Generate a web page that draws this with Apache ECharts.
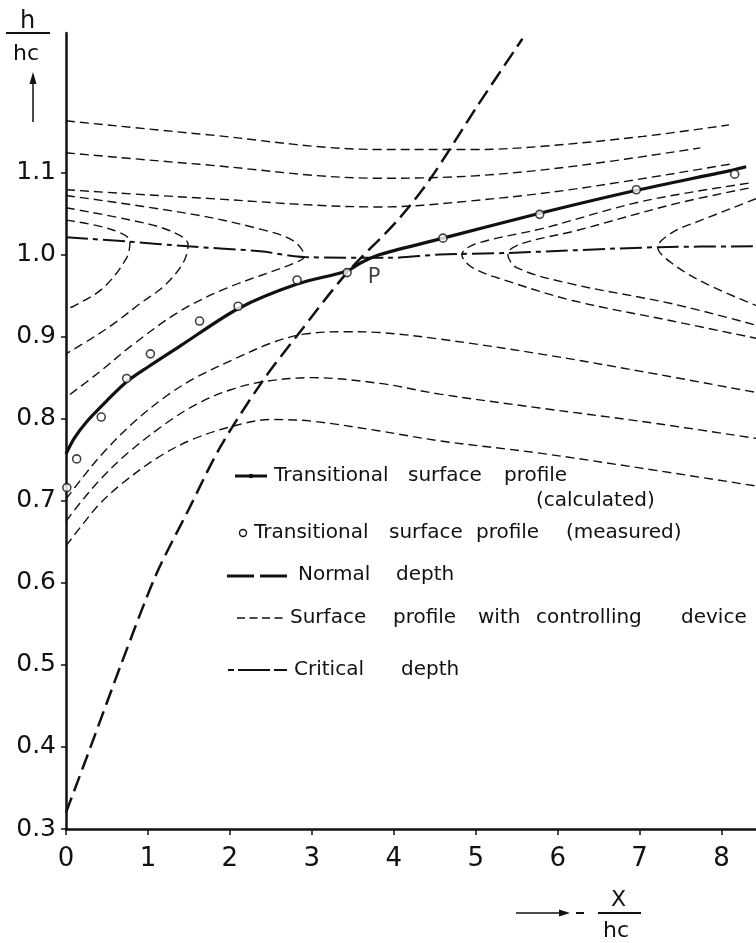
<!DOCTYPE html>
<html>
<head>
<meta charset="utf-8">
<title>Transitional surface profile</title>
<script src="https://cdn.jsdelivr.net/npm/echarts@6/dist/echarts.min.js"></script>
<style>
  html, body { margin: 0; padding: 0; background: #fff; }
  #chart { width: 756px; height: 943px; }
</style>
</head>
<body>
<div id="chart"></div>
<script>
// axis ticks
const xTicks = [0, 1, 2, 3, 4, 5, 6, 7, 8]
const yTicks = [0.3, 0.4, 0.5, 0.6, 0.7, 0.8, 0.9, 1.0, 1.1]

// transitional surface profile (calculated) and (measured)
const transCalc = [[0, 0.757], [0.1, 0.776], [0.25, 0.796], [0.5, 0.822], [0.74, 0.845], [1.0, 0.863], [1.4, 0.889], [2.1, 0.934], [2.82, 0.964], [3.43, 0.98], [3.6, 0.99], [3.83, 1.0], [4.6, 1.02], [5.77, 1.05], [6.95, 1.078], [8.09, 1.102], [8.3, 1.107]]
const transMeas = [[0.01, 0.716], [0.13, 0.751], [0.43, 0.802], [0.74, 0.849], [1.03, 0.879], [1.63, 0.919], [2.1, 0.937], [2.82, 0.969], [3.43, 0.978], [4.6, 1.02], [5.78, 1.049], [6.96, 1.079], [8.16, 1.098]]

// normal depth and critical depth
const normalDepth = [[0, 0.32], [0.3, 0.4], [0.67, 0.5], [1.1, 0.61], [1.5, 0.69], [1.88, 0.765], [2.4, 0.846], [2.85, 0.905], [3.43, 0.978], [4.04, 1.041], [4.45, 1.093], [5.0, 1.178], [5.57, 1.263]]
const criticalDepth = [[0, 1.021], [0.74, 1.016], [1.49, 1.01], [2.37, 1.004], [2.91, 0.997], [3.95, 0.996], [4.56, 1.0], [5.39, 1.002], [7.22, 1.009], [8.42, 1.01]]

// surface profiles with controlling device
const sp1 = [[0, 1.163], [1.63, 1.147], [3.83, 1.128], [5.0, 1.128], [5.82, 1.132], [7.04, 1.144], [8.09, 1.158]]
const sp2 = [[0, 1.124], [1.63, 1.11], [3.83, 1.093], [5.0, 1.096], [6.22, 1.108], [7.74, 1.13]]
const sp3 = [[0, 1.079], [1.63, 1.069], [3.83, 1.058], [4.9, 1.065], [6.22, 1.08], [8.15, 1.111]]
const sp4 = [[0, 1.072], [1.55, 1.049], [2.37, 1.031], [2.77, 1.017], [2.91, 0.998], [2.77, 0.989], [1.96, 0.959], [1.39, 0.931], [0.8, 0.889], [0.41, 0.857], [0, 0.826]]
const sp5 = [[0, 1.057], [0.74, 1.043], [1.27, 1.029], [1.49, 1.012], [1.43, 0.99], [1.2, 0.962], [0.9, 0.94], [0.6, 0.917], [0.3, 0.897], [0, 0.879]]
const sp6 = [[0, 1.042], [0.54, 1.031], [0.78, 1.016], [0.74, 0.996], [0.45, 0.959], [0.09, 0.937], [0, 0.934]]
const sp7 = [[8.33, 1.087], [7.04, 1.065], [5.82, 1.032], [5.0, 1.013], [4.83, 1.0], [4.96, 0.984], [5.38, 0.968], [6.18, 0.944], [7.4, 0.919], [8.42, 0.898]]
const sp8 = [[8.33, 1.081], [7.44, 1.062], [6.22, 1.029], [5.55, 1.013], [5.39, 1.001], [5.5, 0.984], [6.18, 0.964], [7.4, 0.94], [8.42, 0.914]]
const sp9 = [[8.42, 1.068], [7.73, 1.041], [7.4, 1.027], [7.22, 1.009], [7.4, 0.989], [7.82, 0.964], [8.42, 0.938]]
const sp10 = [[0, 0.702], [0.2, 0.728], [0.45, 0.758], [0.82, 0.795], [1.23, 0.828], [1.6, 0.851], [2.04, 0.872], [2.5, 0.892], [2.9, 0.903], [3.4, 0.906], [3.83, 0.905], [4.56, 0.897], [5.78, 0.879], [7.0, 0.858], [8.42, 0.832]]
const sp11 = [[0, 0.675], [0.17, 0.697], [0.41, 0.725], [0.74, 0.757], [1.23, 0.795], [1.6, 0.818], [2.0, 0.835], [2.4, 0.845], [3.0, 0.85], [3.83, 0.843], [4.56, 0.83], [5.78, 0.813], [7.0, 0.797], [8.42, 0.776]]
const sp12 = [[0, 0.645], [0.17, 0.667], [0.4, 0.695], [0.66, 0.719], [1.11, 0.752], [1.55, 0.775], [2.08, 0.792], [2.5, 0.799], [3.0, 0.797], [3.83, 0.785], [4.56, 0.773], [5.78, 0.758], [7.0, 0.74], [8.42, 0.718]]
const surfaceProfiles = [sp1, sp2, sp3, sp4, sp5, sp6, sp7, sp8, sp9, sp10, sp11, sp12]

// point P
const pointP = [[3.76, 0.972]]

const FONT = 'DejaVu Sans'
const INK = '#111'

const chartInstance = echarts.init(document.getElementById('chart'))

function word(text, x, y, size) {
    return {
        type: 'text',
        x: x,
        y: y,
        style: {
            text: text,
            font: (size || 20) + 'px "' + FONT + '"',
            fill: INK,
            verticalAlign: 'middle'
        }
    }
}

function seg(x1, y1, x2, y2, w, dash) {
    return {
        type: 'line',
        shape: { x1: x1, y1: y1, x2: x2, y2: y2 },
        style: { stroke: INK, lineWidth: w, lineDash: dash || null }
    }
}

const series = []

surfaceProfiles.forEach(function (d) {
    series.push({
        type: 'line',
        data: d,
        smooth: 0.35,
        symbol: 'none',
        lineStyle: { color: INK, width: 1.4, type: [9, 5] },
        silent: true
    })
})

series.push({
    type: 'line',
    name: 'Critical depth',
    data: criticalDepth,
    smooth: 0.3,
    symbol: 'none',
    lineStyle: { color: INK, width: 2, type: [22, 5, 5, 5] }
})

series.push({
    type: 'line',
    name: 'Normal depth',
    data: normalDepth,
    smooth: 0.3,
    symbol: 'none',
    lineStyle: { color: INK, width: 2.5, type: [16, 7] }
})

series.push({
    type: 'line',
    name: 'Transitional surface profile (calculated)',
    data: transCalc,
    smooth: 0.3,
    symbol: 'none',
    lineStyle: { color: INK, width: 3.2 }
})

series.push({
    type: 'scatter',
    name: 'Transitional surface profile (measured)',
    data: transMeas,
    symbol: 'circle',
    symbolSize: 8,
    itemStyle: { color: '#fff', borderColor: INK, borderWidth: 1.6 },
    z: 5
})

series.push({
    type: 'scatter',
    data: pointP,
    symbolSize: 0,
    label: {
        show: true,
        position: 'inside',
        formatter: 'P',
        color: INK,
        fontFamily: FONT,
        fontSize: 21
    }
})

const option = {
    animation: false,
    backgroundColor: '#fff',
    grid: { left: 66, right: 0, top: 33, bottom: 114 },
    xAxis: {
        type: 'value',
        min: 0,
        max: 8.42,
        interval: 1,
        axisLine: { lineStyle: { color: INK, width: 2.5 } },
        axisTick: {
            show: true,
            customValues: xTicks,
            length: 6,
            lineStyle: { color: INK, width: 1.5 }
        },
        axisLabel: {
            customValues: xTicks,
            margin: 17,
            color: INK,
            fontFamily: FONT,
            fontSize: 26
        },
        splitLine: { show: false }
    },
    yAxis: {
        type: 'value',
        min: 0.3,
        max: 1.27,
        interval: 0.1,
        axisLine: { show: true, lineStyle: { color: INK, width: 2.5 } },
        axisTick: {
            show: true,
            customValues: yTicks,
            length: 5,
            lineStyle: { color: INK, width: 1.5 }
        },
        axisLabel: {
            customValues: yTicks,
            margin: 10,
            color: INK,
            fontFamily: FONT,
            fontSize: 25,
            formatter: function (v) { return v.toFixed(1) }
        },
        splitLine: { show: false }
    },
    graphic: [
        // y axis title
        word('h', 20, 22, 24),
        seg(6, 33, 50, 33, 2),
        word('hc', 13, 54, 22),
        seg(33, 122, 33, 82, 1.5),
        { type: 'polygon', shape: { points: [[33, 72], [29.5, 84], [36.5, 84]] }, style: { fill: INK } },
        // x axis title
        seg(516, 913, 562, 913, 1.5),
        { type: 'polygon', shape: { points: [[570, 913], [559, 909.5], [559, 916.5]] }, style: { fill: INK } },
        seg(576, 913, 584, 913, 2),
        word('X', 611, 900, 22),
        seg(598, 913, 641, 913, 2),
        word('hc', 603, 931, 22),
        // legend row 1
        seg(235, 476, 267, 476, 3),
        { type: 'circle', shape: { cx: 251, cy: 476, r: 2.2 }, style: { fill: INK } },
        word('Transitional', 274, 476),
        word('surface', 408, 476),
        word('profile', 504, 476),
        word('(calculated)', 536, 501),
        // legend row 2
        { type: 'circle', shape: { cx: 243, cy: 533, r: 3.5 }, style: { fill: '#fff', stroke: INK, lineWidth: 1.4 } },
        word('Transitional', 254, 533),
        word('surface', 389, 533),
        word('profile', 476, 533),
        word('(measured)', 566, 533),
        // legend row 3
        seg(227, 576, 287, 576, 3, [27, 6]),
        word('Normal', 298, 575),
        word('depth', 396, 575),
        // legend row 4
        seg(237, 618, 284, 618, 1.5, [8, 4.5]),
        word('Surface', 290, 618),
        word('profile', 393, 618),
        word('with', 478, 618),
        word('controlling', 536, 618),
        word('device', 681, 618),
        // legend row 5
        seg(228, 670, 287, 670, 2, [6, 4, 32, 4, 13]),
        word('Critical', 294, 670),
        word('depth', 401, 670)
    ],
    series: series
}

chartInstance.setOption(option)

window.addEventListener('resize', function () {
    chartInstance.resize()
})
</script>
</body>
</html>
